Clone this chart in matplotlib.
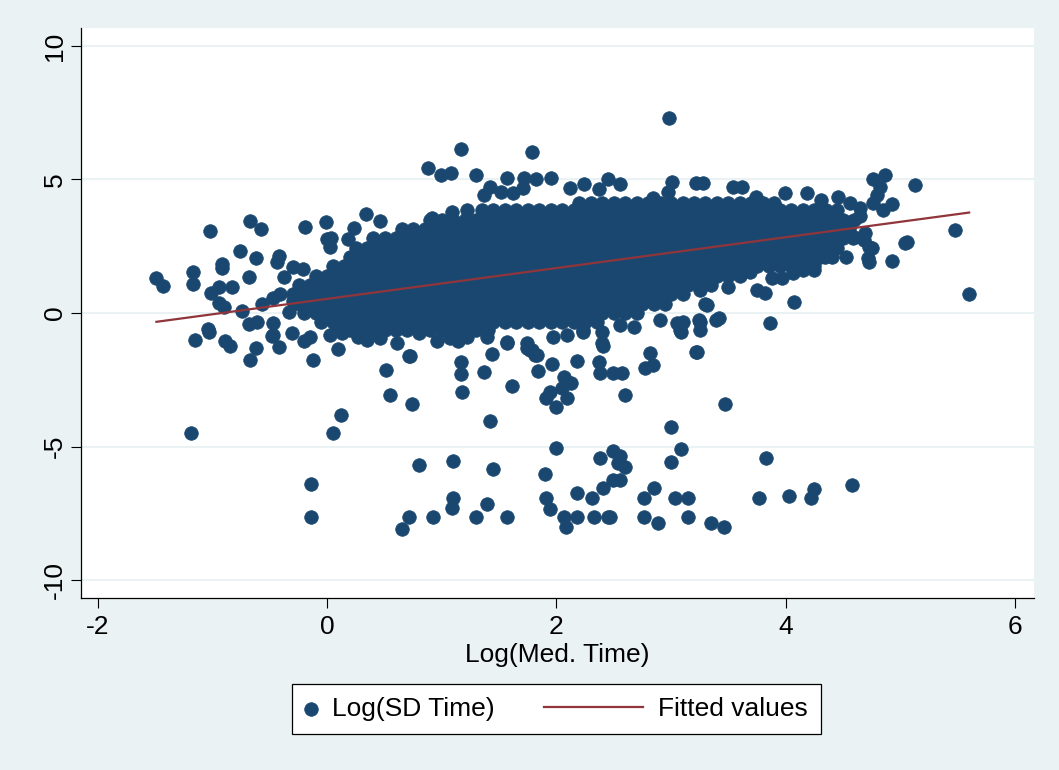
import numpy as np
import matplotlib
matplotlib.use("Agg")
import matplotlib.pyplot as plt
from matplotlib.legend_handler import HandlerLine2D

plt.rcParams['font.family'] = ['Liberation Sans', 'DejaVu Sans']

# ---------------- data ----------------
# dense core of the cloud: rows of points (y level, x positions)
core_y = [-0.65, -0.35, 0.0, 0.35, 0.7, 1.05, 1.4, 1.75, 2.1, 2.45, 2.8, 3.15, 3.5, 3.85, 4.1]
core_x = [
    [0.1, 0.2, 0.3, 0.4, 0.5, 0.6, 0.7, 0.8, 0.9, 1.0, 1.1, 1.2, 1.3, 1.4],
    [-0.05, 0.05, 0.15, 0.25, 0.35, 0.45, 0.55, 0.65, 0.75, 0.85, 0.95, 1.05, 1.15, 1.25, 1.35,
     1.45, 1.55, 1.65, 1.75, 1.85, 1.95, 2.05, 2.15, 2.25, 2.35],
    [-0.2, -0.1, 0.0, 0.1, 0.2, 0.3, 0.4, 0.5, 0.6, 0.7, 0.8, 0.9, 1.0, 1.1, 1.2, 1.3, 1.4, 1.5,
     1.6, 1.7, 1.8, 1.9, 2.0, 2.1, 2.2, 2.3, 2.4, 2.5, 2.6, 2.7],
    [-0.25, -0.15, -0.05, 0.05, 0.15, 0.25, 0.35, 0.45, 0.55, 0.65, 0.75, 0.85, 0.95, 1.05, 1.15,
     1.25, 1.35, 1.45, 1.55, 1.65, 1.75, 1.85, 1.95, 2.05, 2.15, 2.25, 2.35, 2.45, 2.55, 2.65,
     2.75, 2.85, 2.95],
    [-0.3, -0.2, -0.1, 0.0, 0.1, 0.2, 0.3, 0.4, 0.5, 0.6, 0.7, 0.8, 0.9, 1.0, 1.1, 1.2, 1.3, 1.4,
     1.5, 1.6, 1.7, 1.8, 1.9, 2.0, 2.1, 2.2, 2.3, 2.4, 2.5, 2.6, 2.7, 2.8, 2.9, 3.0, 3.1],
    [-0.25, -0.15, -0.05, 0.05, 0.15, 0.25, 0.35, 0.45, 0.55, 0.65, 0.75, 0.85, 0.95, 1.05, 1.15,
     1.25, 1.35, 1.45, 1.55, 1.65, 1.75, 1.85, 1.95, 2.05, 2.15, 2.25, 2.35, 2.45, 2.55, 2.65,
     2.75, 2.85, 2.95, 3.05, 3.15, 3.25, 3.35],
    [-0.1, 0.0, 0.1, 0.2, 0.3, 0.4, 0.5, 0.6, 0.7, 0.8, 0.9, 1.0, 1.1, 1.2, 1.3, 1.4, 1.5, 1.6,
     1.7, 1.8, 1.9, 2.0, 2.1, 2.2, 2.3, 2.4, 2.5, 2.6, 2.7, 2.8, 2.9, 3.0, 3.1, 3.2, 3.3, 3.4,
     3.5, 3.6],
    [0.05, 0.15, 0.25, 0.35, 0.45, 0.55, 0.65, 0.75, 0.85, 0.95, 1.05, 1.15, 1.25, 1.35, 1.45,
     1.55, 1.65, 1.75, 1.85, 1.95, 2.05, 2.15, 2.25, 2.35, 2.45, 2.55, 2.65, 2.75, 2.85, 2.95,
     3.05, 3.15, 3.25, 3.35, 3.45, 3.55, 3.65, 3.75, 3.85, 3.95, 4.05, 4.15, 4.25],
    [0.2, 0.3, 0.4, 0.5, 0.6, 0.7, 0.8, 0.9, 1.0, 1.1, 1.2, 1.3, 1.4, 1.5, 1.6, 1.7, 1.8, 1.9,
     2.0, 2.1, 2.2, 2.3, 2.4, 2.5, 2.6, 2.7, 2.8, 2.9, 3.0, 3.1, 3.2, 3.3, 3.4, 3.5, 3.6, 3.7,
     3.8, 3.9, 4.0, 4.1, 4.2, 4.3, 4.4],
    [0.25, 0.35, 0.45, 0.55, 0.65, 0.75, 0.85, 0.95, 1.05, 1.15, 1.25, 1.35, 1.45, 1.55, 1.65,
     1.75, 1.85, 1.95, 2.05, 2.15, 2.25, 2.35, 2.45, 2.55, 2.65, 2.75, 2.85, 2.95, 3.05, 3.15,
     3.25, 3.35, 3.45, 3.55, 3.65, 3.75, 3.85, 3.95, 4.05, 4.15, 4.25, 4.35, 4.45],
    [0.4, 0.5, 0.6, 0.7, 0.8, 0.9, 1.0, 1.1, 1.2, 1.3, 1.4, 1.5, 1.6, 1.7, 1.8, 1.9, 2.0, 2.1,
     2.2, 2.3, 2.4, 2.5, 2.6, 2.7, 2.8, 2.9, 3.0, 3.1, 3.2, 3.3, 3.4, 3.5, 3.6, 3.7, 3.8, 3.9,
     4.0, 4.1, 4.2, 4.3, 4.4, 4.5],
    [0.65, 0.75, 0.85, 0.95, 1.05, 1.15, 1.25, 1.35, 1.45, 1.55, 1.65, 1.75, 1.85, 1.95, 2.05,
     2.15, 2.25, 2.35, 2.45, 2.55, 2.65, 2.75, 2.85, 2.95, 3.05, 3.15, 3.25, 3.35, 3.45, 3.55,
     3.65, 3.75, 3.85, 3.95, 4.05, 4.15, 4.25, 4.35, 4.45, 4.55],
    [0.9, 1.0, 1.1, 1.2, 1.3, 1.4, 1.5, 1.6, 1.7, 1.8, 1.9, 2.0, 2.1, 2.2, 2.3, 2.4, 2.5, 2.6,
     2.7, 2.8, 2.9, 3.0, 3.1, 3.2, 3.3, 3.4, 3.5, 3.6, 3.7, 3.8, 3.9, 4.0, 4.1, 4.2, 4.3, 4.4,
     4.5, 4.6],
    [1.35, 1.45, 1.55, 1.65, 1.75, 1.85, 1.95, 2.05, 2.15, 2.25, 2.35, 2.45, 2.55, 2.65, 2.75,
     2.85, 2.95, 3.05, 3.15, 3.25, 3.35, 3.45, 3.55, 3.65, 3.75, 3.85, 3.95, 4.05, 4.15, 4.25,
     4.35, 4.45],
    [2.2, 2.3, 2.4, 2.5, 2.6, 2.7, 2.8, 2.9, 3.0, 3.1, 3.2, 3.3, 3.4, 3.5, 3.6, 3.7, 3.8, 3.9],
]

# individual points around the edges and outliers
edge_x = [0.88, 0.99, 1.08, 1.30, 1.17, 1.79, 2.98, 1.57, 1.72, 1.82, 1.95, 2.24, 2.45, 2.55,
          2.37, 3.01, 3.22, 3.28, 3.54, 3.62, 1.42, 1.37, 2.12, 1.52, 1.62, 1.71, 2.84, 2.97,
          0.91, 1.09, 1.22,
          3.74, 3.99, 4.19, 4.31, 4.46, 4.56, 4.65, 4.65, 4.76, 4.87, 4.82, 4.80, 4.76, 4.85,
          4.93, 5.13, 5.48, 5.60, 5.06, 5.04, 4.93, 4.73, 4.72, 4.73, 4.59, 4.67, 4.53, 4.34,
          4.25, 4.07, 3.86, 3.75, 3.82, 3.88, 3.97, 4.06, 4.15, 3.69, 3.50, 3.31, 3.42, 3.25,
          3.23, 3.25, 3.30, 3.39, 3.25, 4.56, 4.60, 4.69, 4.68, 4.75, 3.24, 3.10, 3.08,
          -1.02, -0.67, -0.58, -0.19, -0.01, 0.34, 0.46, 0.23, 0.18, 0.00, 0.03, 0.02, -0.76,
          -0.62, -0.92, -0.92, -0.42, -0.44, -0.30, -0.21, -0.38, -0.68, -1.49, -1.43, -1.17,
          -1.17, -1.01, -0.94, -0.83, -0.94, -0.90, -0.74, -0.57, -0.47, -0.41, -0.68, -0.61,
          -0.47, -0.47, -0.31, -0.20, -1.15, -1.04, -1.03, -0.89, -0.85, -0.62, -0.67, -0.42,
          -0.12, 0.09, 0.51, 0.71, 0.02, 0.13, 0.27, 0.35, 0.46, 0.61, 0.96, -0.48, -0.15,
          0.80, -0.24, -0.30, -0.33,
          0.55, 0.74, 0.12, 0.05, -1.19, 1.07, 1.14, 1.22, 1.17, 1.17, 1.18, 1.37, 1.44, 1.57,
          1.61, 1.42, 1.84, 1.96, 1.77, 1.81, 2.07, 2.13, 2.05, 1.94, 1.91, 2.09, 2.00, 2.18,
          2.00, -0.14, -0.14, 0.80, 1.10, 1.45, 1.90, 1.10, 1.09, 1.39, 1.91, 1.94, 2.18, 0.71,
          0.65, 0.92, 1.30, 1.57, 2.07, 2.08, 2.18,
          1.97, 2.09, 2.23, 2.40, 2.40, 2.41, 3.09, 2.37, 2.38, 2.49, 2.57, 2.82, 2.77, 2.84,
          3.22, 2.60, 3.47, 3.00, 2.38, 2.49, 2.55, 2.60, 2.54, 3.00, 3.09, 3.83, 2.41, 2.49,
          2.55, 2.31, 2.85, 2.76, 3.03, 3.15, 3.77, 4.03, 4.22, 4.25, 4.58, 2.33, 2.45, 2.47,
          2.76, 2.89, 3.15, 3.35, 3.46,
          1.14, 1.22, 1.39, 1.57, 1.74, 1.74, 1.79, 1.83, 2.55, 2.68, 2.90, 3.05, 2.23, 0.72]
edge_y = [5.43, 5.17, 5.24, 5.17, 6.14, 6.03, 7.30, 5.06, 5.06, 5.02, 5.06, 4.83, 5.02, 4.83,
          4.64, 4.91, 4.87, 4.87, 4.72, 4.72, 4.72, 4.42, 4.68, 4.53, 4.49, 4.68, 4.30, 4.53,
          3.56, 3.78, 3.86,
          4.34, 4.49, 4.49, 4.23, 4.34, 4.12, 3.93, 3.63, 5.02, 5.17, 4.72, 4.42, 4.12, 3.86,
          4.08, 4.79, 3.11, 0.71, 2.66, 2.62, 1.95, 2.47, 2.06, 1.91, 2.81, 2.81, 2.10, 2.10,
          1.61, 0.41, -0.37, 0.86, 0.75, 1.31, 1.31, 1.50, 1.61, 1.54, 0.97, 0.30, -0.19, -0.34,
          -1.46, 0.86, 0.34, -0.26, -0.64, 3.41, 2.85, 3.00, 2.73, 2.43, -0.26, -0.34, -0.64,
          3.07, 3.45, 3.15, 3.22, 3.41, 3.71, 3.45, 3.18, 2.77, 2.77, 2.80, 2.47, 2.32,
          2.06, 1.84, 1.69, 2.13, 1.91, 1.72, 1.65, 1.35, 1.35, 1.31, 1.01, 1.54,
          1.09, 0.75, 0.97, 0.97, 0.37, 0.22, 0.07, 0.34, 0.56, 0.71, -0.41, -0.34,
          -0.37, -0.82, -0.75, -1.05, -1.01, -0.60, -0.70, -1.05, -1.24, -1.31, -1.76, -1.27,
          -1.76, -1.35, -2.13, -1.61, -0.82, -0.75, -0.90, -1.00, -0.94, -1.12, -1.05, -0.86, -0.90,
          -0.75, 0.90, 0.45, 0.05,
          -3.07, -3.41, -3.82, -4.49, -4.49, -0.94, -1.01, -0.75, -1.84, -2.28, -2.96, -2.21, -1.54, -1.12,
          -2.73, -4.04, -2.17, -1.91, -1.39, -1.57, -2.40, -2.62, -2.81, -2.96, -3.18, -3.18, -3.52, -1.80,
          -5.06, -6.40, -7.64, -5.69, -5.54, -5.84, -6.03, -6.93, -7.30, -7.15, -6.93, -7.34, -6.74, -7.64,
          -8.09, -7.64, -7.64, -7.64, -7.64, -8.01, -7.64,
          -0.90, -0.82, -0.71, -0.71, -1.12, -1.24, -0.71, -1.84, -2.25, -2.25, -2.25, -1.50, -2.06, -1.95,
          -1.46, -3.07, -3.41, -4.27, -5.43, -5.17, -5.36, -5.77, -5.62, -5.58, -5.09, -5.43, -6.55, -6.25,
          -6.25, -6.93, -6.55, -6.93, -6.93, -6.93, -6.93, -6.85, -6.93, -6.59, -6.44, -7.64, -7.64, -7.64,
          -7.64, -7.87, -7.64, -7.87, -8.01,
          -1.05, -0.90, -0.90, -1.09, -1.31, -1.12, -1.39, -1.57, -0.45, -0.52, -0.26, -0.37, -0.64, -1.61]

# fitted regression line (end points)
fit_x = [-1.49, 5.60]
fit_y = [-0.33, 3.76]

x_ticks = [-2, 0, 2, 4, 6]
y_ticks = [-10, -5, 0, 5, 10]
x_label = "Log(Med. Time)"
series_labels = ["Log(SD Time)", "Fitted values"]

# ---------------- styling ----------------
BG = "#eaf2f3"
NAVY = "#1a476f"
MAROON = "#90353b"
FS = 19

xs = []
ys = []
for yv, row in zip(core_y, core_x):
    xs.extend(row)
    ys.extend([yv] * len(row))
xs.extend(edge_x)
ys.extend(edge_y)

fig = plt.figure(figsize=(10.59, 7.70), dpi=100, facecolor=BG)
ax = fig.add_axes([81 / 1059, (770 - 598) / 770, (1034 - 81) / 1059, (598 - 28) / 770])
ax.set_facecolor("white")

sc = ax.scatter(xs, ys, s=96, color=NAVY, edgecolors=NAVY, linewidths=0.5, zorder=3,
                label=series_labels[0])
ln, = ax.plot(fit_x, fit_y, color=MAROON, lw=1.6, zorder=4, label=series_labels[1])

ax.set_xlim(-2.148, 6.166)
ax.set_ylim(-10.67, 10.67)
ax.set_xticks(x_ticks)
ax.set_yticks(y_ticks)
ax.set_xticklabels([str(v) for v in x_ticks], fontsize=FS)
ax.set_yticklabels([str(v) for v in y_ticks], fontsize=FS, rotation=90, va="center")
ax.tick_params(axis="both", direction="out", length=7.2, width=0.8, color="black")
ax.tick_params(axis="x", pad=5)
ax.tick_params(axis="y", pad=3)
ax.grid(axis="y", color=BG, lw=1.5, zorder=0)
ax.set_axisbelow(True)
for side in ("top", "right"):
    ax.spines[side].set_visible(False)
for side in ("left", "bottom"):
    ax.spines[side].set_color("black")
    ax.spines[side].set_linewidth(0.9)

ax.set_xlabel(x_label, fontsize=FS, labelpad=3)


class LongLineHandler(HandlerLine2D):
    def __init__(self, extra, **kw):
        super().__init__(**kw)
        self.extra = extra

    def create_artists(self, legend, orig_handle, xdescent, ydescent, width, height,
                       fontsize, trans):
        return super().create_artists(legend, orig_handle, xdescent + self.extra, ydescent,
                                      width + self.extra, height, fontsize, trans)


leg = fig.legend([sc, ln], series_labels, loc="center",
                 bbox_to_anchor=(556.5 / 1059, 1 - 709 / 770), bbox_transform=fig.transFigure,
                 ncol=2, fontsize=FS, frameon=True, fancybox=False, framealpha=1,
                 edgecolor="black", facecolor="white", scatterpoints=1, numpoints=1,
                 handlelength=0.44, handletextpad=0.58, columnspacing=5.15, borderpad=0.5,
                 handler_map={ln: LongLineHandler(extra=62.7)})
leg.get_frame().set_linewidth(0.9)

fig.savefig("out.png", dpi=100, facecolor=BG)
